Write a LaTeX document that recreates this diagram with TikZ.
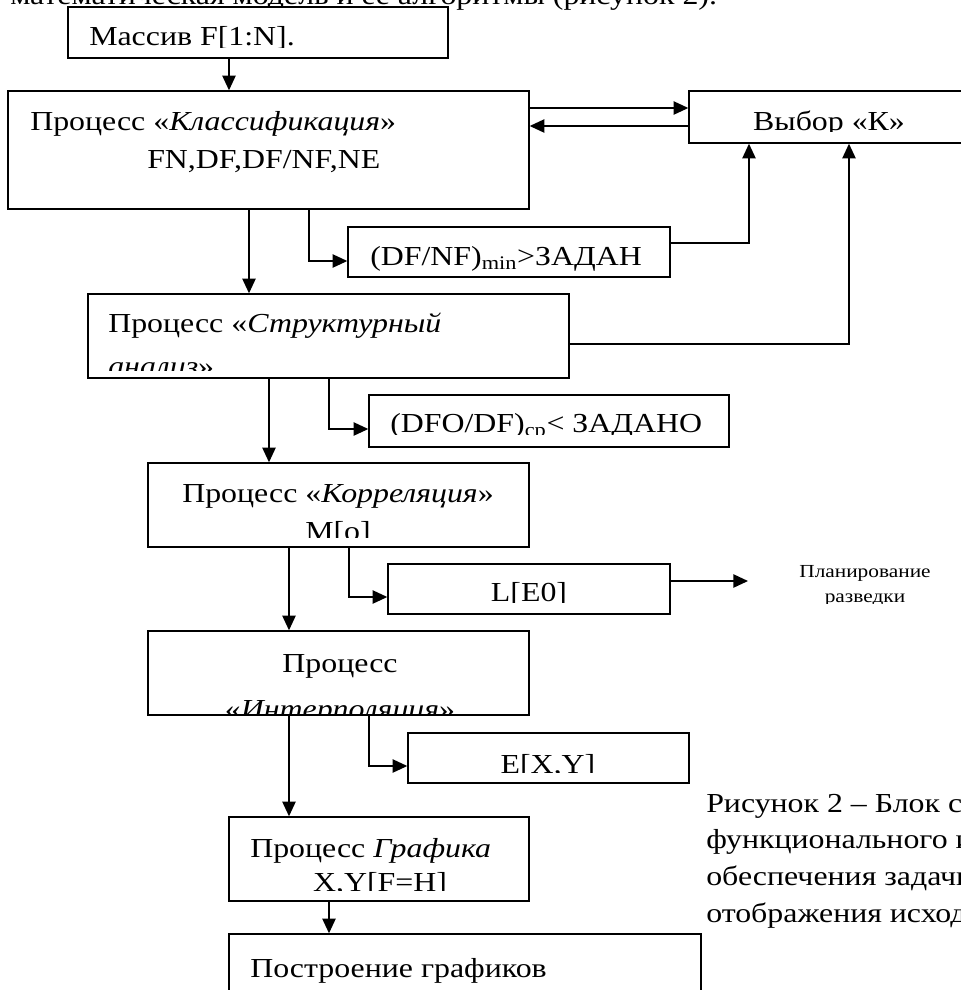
\documentclass[tikz,border=0pt]{standalone}
\usepackage{fontspec}
\setmainfont{Liberation Serif}[FakeStretch=1.16]
\usetikzlibrary{positioning,arrows.meta,fit}

\tikzset{
  blk/.style={draw,line width=1.1pt,fill=white,inner sep=0pt},
  txt/.style={inner sep=0pt,font=\fontsize{20.6}{25}\selectfont},
  small/.style={inner sep=0pt,font=\fontsize{13.8}{16}\selectfont},
  conn/.style={-{Triangle[length=11pt,width=10pt]},line width=1.1pt},
}

\begin{document}
\begin{tikzpicture}[x=0.75pt,y=-0.75pt]
  \useasboundingbox (0,0) rectangle (961,990);
  \clip (0,0) rectangle (961,990);
  % text line above the scheme
  \node[txt,anchor=base west] (intro) at (10,4)
    {математическая модель и ее алгоритмы (рисунок 2).};

  % blocks
  \node[blk,fit={(68,7) (448,58)}] (arr) {};
  \node[blk,fit={(8,91) (529,209)}] (cls) {};
  \node[blk,fit={(689,91) (975,143)}] (vyb) {};
  \node[blk,fit={(348,227) (670,277)}] (dfnf) {};
  \node[blk,fit={(88,294) (569,378)}] (str) {};
  \node[blk,fit={(369,395) (729,447)}] (dfo) {};
  \node[blk,fit={(148,463) (529,547)}] (cor) {};
  \node[blk,fit={(388,564) (670,614)}] (lbox) {};
  \node[blk,fit={(148,631) (529,715)}] (int) {};
  \node[blk,fit={(408,733) (689,783)}] (exy) {};
  \node[blk,fit={(229,817) (529,901)}] (gra) {};
  \node[blk,fit={(229,934) (701,1010)}] (bld) {};

  % texts of the blocks, cut at the bottom as in the frames
  \begin{scope}
    \clip (arr.north west) rectangle (arr.east |- 0,47);
    \node[txt,anchor=base west] (arrT) at (89,45) {Массив F[1:N].};
  \end{scope}
  \node[txt,anchor=base west] (clsA) at (30,130) {Процесс «\textit{Классификация}»};
  \node[txt,anchor=base west] (clsB) at (147,168) {FN,DF,DF/NF,NE};
  \begin{scope}
    \clip (vyb.north west) rectangle (vyb.east |- 0,131);
    \node[txt,anchor=base] (vybT) at (829,130) {Выбор «К»};
  \end{scope}
  \node[txt,anchor=base west] (dfnfT) at (370,265) {(DF/NF)\textsubscript{min}>ЗАДАН};
  \begin{scope}
    \clip (str.north west) rectangle (str.east |- 0,370);
    \node[txt,anchor=base west] (strA) at (108,332) {Процесс «\textit{Структурный}};
    \node[txt,anchor=base west] (strB) at (108,375) {\textit{анализ}»};
  \end{scope}
  \begin{scope}
    \clip (dfo.north west) rectangle (dfo.east |- 0,434);
    \node[txt,anchor=base west] (dfoT) at (390,432) {(DFO/DF)\textsubscript{ср}< ЗАДАНО};
  \end{scope}
  \begin{scope}
    \clip (cor.north west) rectangle (cor.east |- 0,537);
    \node[txt,anchor=base] (corA) at (338,502) {Процесс «\textit{Корреляция}»};
    \node[txt,anchor=base] (corB) at (338,540) {M[o]};
  \end{scope}
  \begin{scope}
    \clip (lbox.north west) rectangle (lbox.east |- 0,602);
    \node[txt,anchor=base] (lboxT) at (529,601) {L[E0]};
  \end{scope}
  \begin{scope}
    \clip (770,550) rectangle (961,603);
    \node[small,anchor=base] (planA) at (865,577) {Планирование};
    \node[small,anchor=base] (planB) at (865,602) {разведки};
  \end{scope}
  \begin{scope}
    \clip (int.north west) rectangle (int.east |- 0,713);
    \node[txt,anchor=base] (intA) at (340,672) {Процесс};
    \node[txt,anchor=base] (intB) at (340,718) {«\textit{Интерполяция}»};
  \end{scope}
  \begin{scope}
    \clip (exy.north west) rectangle (exy.east |- 0,772);
    \node[txt,anchor=base] (exyT) at (548,773) {E[X,Y]};
  \end{scope}
  \begin{scope}
    \clip (gra.north west) rectangle (gra.east |- 0,890);
    \node[txt,anchor=base west] (graA) at (250,857) {Процесс \textit{Графика}};
    \node[txt,anchor=base] (graB) at (380,891) {X,Y[F=H]};
  \end{scope}
  \node[txt,anchor=base west] (bldT) at (250,977) {Построение графиков};

  % caption to the right
  \node[txt,anchor=base west] (capA) at (706,812) {Рисунок 2 – Блок схема};
  \node[txt,anchor=base west] (capB) at (706,848) {функционального и};
  \node[txt,anchor=base west] (capC) at (706,885) {обеспечения задачи};
  \node[txt,anchor=base west] (capD) at (706,922) {отображения исходных};

  % connectors
  \coordinate (planend) at (748,581);
  \draw[conn] (arr.south -| 229,0) -- (cls.north -| 229,0);
  \draw[conn] (cls.east |- 0,108) -- (vyb.west |- 0,108);
  \draw[conn] (vyb.west |- 0,126) -- (cls.east |- 0,126);
  \draw[conn] (cls.south -| 309,0) |- (dfnf.west |- 0,261);
  \draw[conn] (dfnf.east |- 0,243) -| (vyb.south -| 749,0);
  \draw[conn] (cls.south -| 249,0) -- (str.north -| 249,0);
  \draw[conn] (str.east |- 0,344) -| (vyb.south -| 849,0);
  \draw[conn] (str.south -| 329,0) |- (dfo.west |- 0,429);
  \draw[conn] (str.south -| 269,0) -- (cor.north -| 269,0);
  \draw[conn] (cor.south -| 349,0) |- (lbox.west |- 0,597);
  \draw[conn] (lbox.east |- 0,581) -- (planend);
  \draw[conn] (cor.south -| 289,0) -- (int.north -| 289,0);
  \draw[conn] (int.south -| 369,0) |- (exy.west |- 0,766);
  \draw[conn] (int.south -| 289,0) -- (gra.north -| 289,0);
  \draw[conn] (gra.south -| 329,0) -- (bld.north -| 329,0);
\end{tikzpicture}
\end{document}
